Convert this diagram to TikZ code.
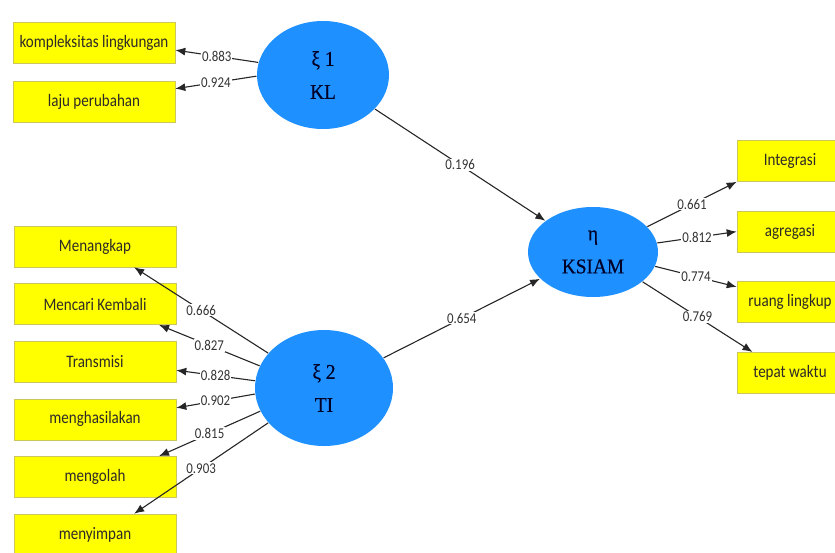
\documentclass[tikz,border=0pt]{standalone}
\usepackage{fontspec}
\newfontfamily\indfont[FakeStretch=0.86]{Carlito}
\newfontfamily\latfont[FakeStretch=0.92,FakeBold=0.4]{Liberation Serif}
\usetikzlibrary{positioning}
\usetikzlibrary{shapes}
\usetikzlibrary{arrows.meta}
\definecolor{latblue}{RGB}{30,144,255}
\definecolor{indyellow}{RGB}{255,255,0}
\tikzstyle{L} = [ellipse,fill=latblue,inner sep=0pt,align=center,text=black!85!blue,font=\latfont\fontsize{21}{33}\selectfont]
\tikzstyle{I} = [rectangle,fill=indyellow,draw=yellow!55!gray,line width=0.6pt,minimum width=162pt,minimum height=41pt,inner sep=0pt,text=black!90!olive,font=\indfont\fontsize{17.5}{20}\selectfont]
\tikzstyle{R} = [I,minimum width=106pt]
\tikzstyle{W} = [midway,fill=white,inner sep=1pt,text=black!80,font=\indfont\fontsize{15}{17}\selectfont]
\tikzset{>={Latex[length=10pt,width=8pt]}}

\begin{document}
\begin{tikzpicture}[x=1pt,y=-1pt,line width=1.1pt,draw=black!85]
  \useasboundingbox (0,0) rectangle (835,552);

  \node [L,minimum width=132pt,minimum height=108pt] (kl) at (323,75) {ξ 1\\KL};
  \node [L,minimum width=138pt,minimum height=116pt] (ti) at (324,388) {ξ 2\\TI};
  \node [L,minimum width=130pt,minimum height=90pt] (ksiam) at (593,252) {η\\KSIAM};

  \node [I] (kl1) at (94,43) {kompleksitas lingkungan};
  \node [I,below=17pt of kl1] (kl2) {laju perubahan};

  \node [I] (ti1) at (95,246.5) {Menangkap};
  \node [I,below=16pt of ti1] (ti2) {Mencari Kembali};
  \node [I,below=16pt of ti2] (ti3) {Transmisi};
  \node [I,below=16pt of ti3] (ti4) {menghasilakan};
  \node [I,below=16pt of ti4] (ti5) {mengolah};
  \node [I,below=16pt of ti5] (ti6) {menyimpan};

  \node [R] (ks1) at (790,161) {Integrasi};
  \node [R,below=29pt of ks1] (ks2) {agregasi};
  \node [R,below=29pt of ks2] (ks3) {ruang lingkup};
  \node [R,below=29pt of ks3] (ks4) {tepat waktu};

  \draw [->] (kl.169) -- (kl1.-5) node [W] {0.883};
  \draw [->] (kl.181) -- (kl2.9) node [W] {0.924};

  \draw [->] (ti.148) -- (ti1.-28) node [W] {0.666};
  \draw [->] (ti.161) -- (ti2.-18) node [W] {0.827};
  \draw [->] (ti.174) -- (ti3.-6) node [W] {0.828};
  \draw [->] (ti.185) -- (ti4.8) node [W] {0.902};
  \draw [->] (ti.200) -- (ti5.18) node [W] {0.815};
  \draw [->] (ti.212) -- (ti6.28) node [W] {0.903};

  \draw [->] (kl) -- (ksiam) node [W] {0.196};
  \draw [->] (ti) -- (ksiam) node [W] {0.654};

  \draw [->] (ksiam.25) -- (ks1.south west) node [W] {0.661};
  \draw [->] (ksiam.8) -- (ks2.west) node [W] {0.812};
  \draw [->] (ksiam.-13) -- (ks3.164) node [W] {0.774};
  \draw [->] (ksiam.-31) -- (ks4.151) node [W] {0.769};

\end{tikzpicture}
\end{document}
